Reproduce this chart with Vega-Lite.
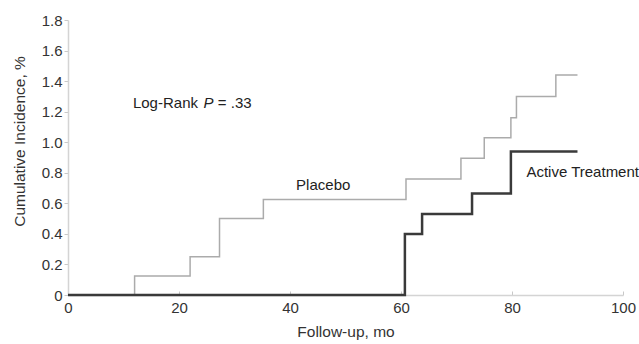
{
  "$schema": "https://vega.github.io/schema/vega-lite/v6.json",
  "autosize": "none",
  "padding": {"left": 68, "top": 20, "right": 16, "bottom": 49},
  "width": 555,
  "height": 275,
  "background": "white",
  "config": {
    "view": {"stroke": null},
    "font": "Liberation Sans",
    "axis": {"grid": false, "domainColor": "#d4d4d4", "tickColor": "#c8c8c8", "labelColor": "#333", "titleColor": "#333", "labelFont": "Liberation Sans", "titleFont": "Liberation Sans", "labelFontSize": 15, "titleFontSize": 15.5, "titleFontWeight": "normal", "domainWidth": 1.5, "labelOverlap": false}
  },
  "datasets": {
    "curves": [
      {"t": 0, "inc": 0, "group": "Placebo"},
      {"t": 12, "inc": 0.125, "group": "Placebo"},
      {"t": 22, "inc": 0.25, "group": "Placebo"},
      {"t": 27.3, "inc": 0.5, "group": "Placebo"},
      {"t": 35.2, "inc": 0.625, "group": "Placebo"},
      {"t": 60.9, "inc": 0.76, "group": "Placebo"},
      {"t": 70.8, "inc": 0.895, "group": "Placebo"},
      {"t": 75, "inc": 1.03, "group": "Placebo"},
      {"t": 79.8, "inc": 1.16, "group": "Placebo"},
      {"t": 80.8, "inc": 1.3, "group": "Placebo"},
      {"t": 87.9, "inc": 1.44, "group": "Placebo"},
      {"t": 91.8, "inc": 1.44, "group": "Placebo"},
      {"t": 0, "inc": 0, "group": "Active Treatment"},
      {"t": 60.7, "inc": 0.4, "group": "Active Treatment"},
      {"t": 63.8, "inc": 0.53, "group": "Active Treatment"},
      {"t": 72.8, "inc": 0.665, "group": "Active Treatment"},
      {"t": 79.8, "inc": 0.94, "group": "Active Treatment"},
      {"t": 91.8, "inc": 0.94, "group": "Active Treatment"}
    ],
    "labels": [
      {"t": 41.1, "inc": 0.717, "text": "Placebo", "style": "normal"},
      {"t": 82.6, "inc": 0.804, "text": "Active Treatment", "style": "normal"},
      {"t": 11.7, "inc": 1.26, "text": "Log-Rank", "style": "normal"},
      {"t": 24.4, "inc": 1.26, "text": "P", "style": "italic"},
      {"t": 27.0, "inc": 1.26, "text": "= .33", "style": "normal"}
    ]
  },
  "encoding": {
    "x": {"field": "t", "type": "quantitative", "scale": {"domain": [0, 100], "nice": false}, "axis": {"title": "Follow-up, mo", "values": [0, 20, 40, 60, 80, 100], "tickSize": -4, "labelPadding": 9, "titleY": 36, "titleBaseline": "middle", "labelFlush": false}},
    "y": {"field": "inc", "type": "quantitative", "scale": {"domain": [0, 1.8], "nice": false}, "axis": {"title": "Cumulative Incidence, %", "values": [0, 0.2, 0.4, 0.6, 0.8, 1.0, 1.2, 1.4, 1.6, 1.8], "tickSize": 4, "labelPadding": 2, "titleX": -49, "titleY": 121, "titleBaseline": "middle", "titleAlign": "center", "labelFlush": false, "labelExpr": "datum.value === 0 ? '0' : format(datum.value, '.1f')"}}
  },
  "layer": [
    {
      "data": {"name": "curves"},
      "transform": [{"filter": "datum.group === 'Placebo'"}],
      "mark": {"type": "line", "interpolate": "step-after", "color": "#ababab", "strokeWidth": 1.5},
      "encoding": {"order": {"field": "t"}}
    },
    {
      "data": {"name": "curves"},
      "transform": [{"filter": "datum.group === 'Active Treatment'"}],
      "mark": {"type": "line", "interpolate": "step-after", "color": "#3a3a3a", "strokeWidth": 2.5},
      "encoding": {"order": {"field": "t"}}
    },
    {
      "data": {"name": "labels"},
      "transform": [{"filter": "datum.style === 'normal'"}],
      "mark": {"type": "text", "fontSize": 15, "color": "#222", "baseline": "middle", "align": "left"},
      "encoding": {"text": {"field": "text"}}
    },
    {
      "data": {"name": "labels"},
      "transform": [{"filter": "datum.style === 'italic'"}],
      "mark": {"type": "text", "fontSize": 15, "color": "#222", "baseline": "middle", "align": "left", "fontStyle": "italic"},
      "encoding": {"text": {"field": "text"}}
    }
  ]
}
